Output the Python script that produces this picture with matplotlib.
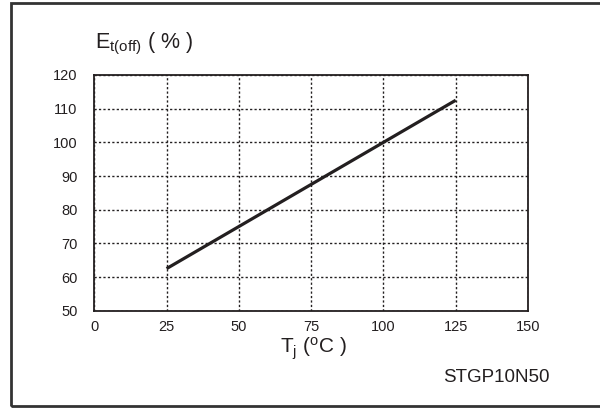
import matplotlib
matplotlib.use("Agg")
import matplotlib.pyplot as plt
from matplotlib.patches import Rectangle

plt.rcParams['font.family'] = ['Liberation Sans', 'DejaVu Sans']
plt.rcParams['mathtext.default'] = 'regular'

tj = [25, 125]
eoff = [62.5, 112.5]
xticks = [0, 25, 50, 75, 100, 125, 150]
yticks = [50, 60, 70, 80, 90, 100, 110, 120]

fig = plt.figure(figsize=(6, 4.08), dpi=100)
W, H = 600, 408
ax = fig.add_axes([94.3 / W, 1 - 310.7 / H, (528 - 94.3) / W, (310.7 - 75) / H])
ax.plot(tj, eoff, color='#231f20', lw=2.3, solid_capstyle='butt')
ax.set_xlim(0, 150)
ax.set_ylim(50, 120)
ax.set_xticks(xticks)
ax.set_yticks(yticks)
ax.tick_params(length=0, labelsize=10.5, colors='#231f20')
ax.tick_params(axis='y', pad=12)
ax.tick_params(axis='x', pad=7)
ax.grid(True, color='#231f20', linestyle=(0, (1.6, 1.6)), lw=1.0)
for s in ax.spines.values():
    s.set_color('#231f20')
    s.set_linewidth(1.3)

fig.text(95 / W, 1 - 48 / H, r'E$_{t(off)}$ ( % )', fontsize=15.5, color='#231f20',
         ha='left', va='baseline')
fig.text(280 / W, 1 - 353 / H, r'T$_{j}$ ($^{o}$C )', fontsize=15, color='#231f20',
         ha='left', va='baseline')
fig.text(443 / W, 1 - 381.5 / H, 'STGP10N50', fontsize=13.5, color='#231f20',
         ha='left', va='baseline')

fig.patches.append(Rectangle((11 / W, 1 - 406 / H), (600 - 11 + 10) / W, (406 - 3) / H,
                             transform=fig.transFigure, fill=False,
                             edgecolor='#333333', lw=2, clip_on=False))

fig.savefig('out.png', dpi=100)
